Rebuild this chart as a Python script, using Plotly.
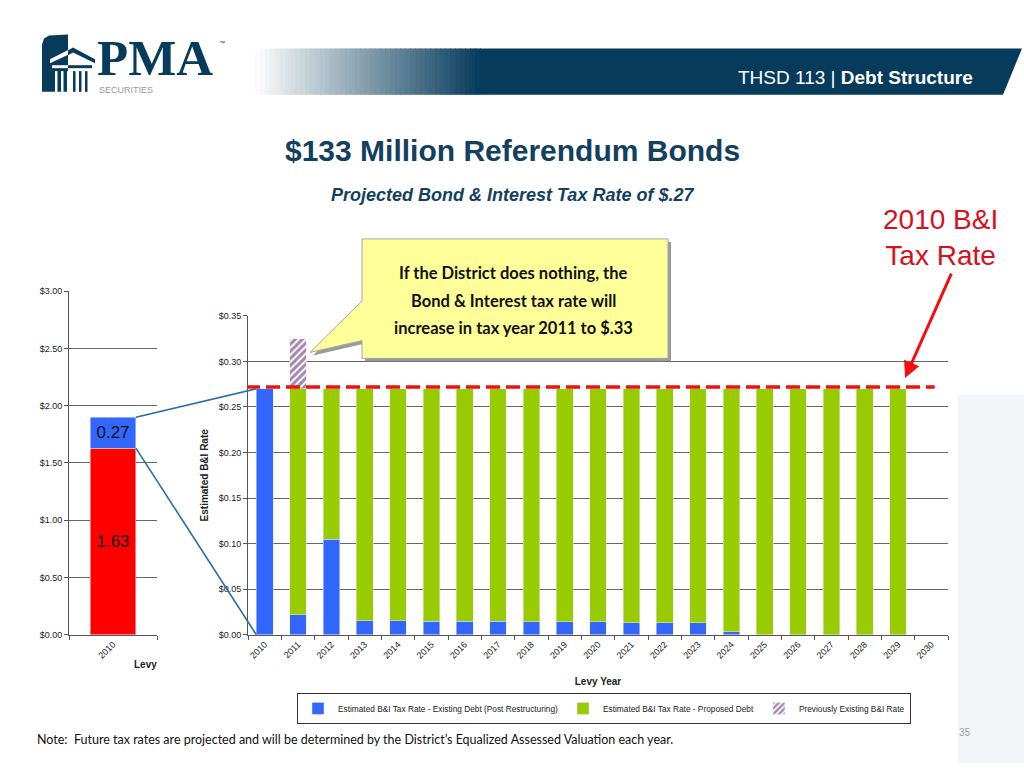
import plotly.graph_objects as go

W, H = 1024, 768

# data
years = [str(y) for y in range(2010, 2031)]
existing_debt = [0.27, 0.022, 0.105, 0.0155, 0.0155, 0.015, 0.015, 0.015, 0.014, 0.014,
                 0.014, 0.013, 0.013, 0.013, 0.003, 0, 0, 0, 0, 0, None]
proposed_debt = [0, 0.248, 0.165, 0.2545, 0.2545, 0.255, 0.255, 0.255, 0.256, 0.256,
                 0.256, 0.257, 0.257, 0.257, 0.267, 0.27, 0.27, 0.27, 0.27, 0.27, None]
previous_rate = [None, 0.055] + [None] * 19
rate_2010 = 0.272

left_year = ['2010']
left_other = [1.63]
left_bi = [0.27]

BLUE = '#3366FF'
GREEN = '#99CC00'
NAVY = '#073B5C'
TITLE = '#14405F'
FONT = 'Liberation Sans, Arial'


def px(x):
    return x / W


def py(y):
    return 1 - y / H


def path(points):
    return 'M ' + ' L '.join(f'{px(a):.5f},{py(b):.5f}' for a, b in points) + ' Z'


def mapv(v, dom, rng):
    return dom[0] + (v - rng[0]) / (rng[1] - rng[0]) * (dom[1] - dom[0])


main_xdom = [px(248), px(948)]
main_ydom = [py(638), py(315)]
main_xrng = [-0.5, 20.5]
main_yrng = [0, 0.35]
left_xdom = [px(69), px(157)]
left_ydom = [py(638), py(290)]
left_xrng = [-0.5, 0.5]
left_yrng = [0, 3]

fig = go.Figure()

# left chart: total 2010 tax rate
fig.add_bar(x=left_year, y=left_other, xaxis='x2', yaxis='y2', width=0.52,
            marker_color='#FF0000', text=[f'{v:.2f}' for v in left_other],
            textposition='inside', insidetextanchor='middle', textangle=0,
            textfont=dict(size=17, color='#111', family=FONT), showlegend=False)
fig.add_bar(x=left_year, y=left_bi, xaxis='x2', yaxis='y2', width=0.52,
            marker_color=BLUE, text=[f'{v:.2f}' for v in left_bi],
            textposition='inside', insidetextanchor='middle', textangle=0,
            textfont=dict(size=17, color='#111', family=FONT), showlegend=False)

# main chart
fig.add_bar(x=years, y=existing_debt, width=0.5, marker_color=BLUE,
            name='Estimated B&I Tax Rate - Existing Debt (Post Restructuring)')
fig.add_bar(x=years, y=proposed_debt, width=0.5, marker_color=GREEN,
            name='Estimated B&I Tax Rate - Proposed Debt')
fig.add_bar(x=years, y=previous_rate, width=0.5,
            marker=dict(color='white', pattern=dict(shape='/', fgcolor='#4B0F5C', bgcolor='white',
                                                     size=5, solidity=0.6)),
            name='Previously Existing B&I Rate')

shapes = []

# faint decoration at the right
shapes.append(dict(type='path', xref='paper', yref='paper', layer='below', line_width=0,
                   fillcolor='#F3F6F9', path=path([(958, 395), (1024, 395), (1024, 768), (958, 768)])))

# header band with gradient
n = 45
x_start, x_end = 255, 480
step = (x_end - x_start) / n
nav = (7, 59, 92)
for i in range(n):
    t = (i + 0.5) / n
    c = tuple(int(255 + (v - 255) * t) for v in nav)
    shapes.append(dict(type='rect', xref='paper', yref='paper', line_width=0,
                       fillcolor=f'rgb{c}',
                       x0=px(x_start + i * step), x1=px(x_start + (i + 1) * step + 0.6),
                       y0=py(91), y1=py(44)))
shapes.append(dict(type='path', xref='paper', yref='paper', line_width=0, fillcolor=NAVY,
                   path=path([(x_end, 44), (1022, 44), (1003, 91), (x_end, 91)])))

# logo
shapes.append(dict(type='path', xref='paper', yref='paper', line_width=0, fillcolor=NAVY,
                   path=path([(42, 40), (44, 34), (49, 31), (68, 30), (68, 88), (42, 88)])))
shapes.append(dict(type='path', xref='paper', yref='paper', line_width=0, fillcolor='white',
                   path=path([(50, 55), (73, 43), (95, 55), (95, 59), (73, 48), (50, 59)])))
shapes.append(dict(type='path', xref='paper', yref='paper', line_width=0, fillcolor=NAVY,
                   path=path([(68, 46), (73, 43), (95, 55), (95, 59), (73, 48), (68, 51)])))
shapes.append(dict(type='rect', xref='paper', yref='paper', line_width=0, fillcolor='white',
                   x0=px(52), x1=px(68), y0=py(64), y1=py(61)))
shapes.append(dict(type='rect', xref='paper', yref='paper', line_width=0, fillcolor=NAVY,
                   x0=px(68), x1=px(92), y0=py(64), y1=py(61)))
for k in range(6):
    xc = 55 + k * 6
    col = 'white' if xc < 68 else NAVY
    shapes.append(dict(type='rect', xref='paper', yref='paper', line_width=0, fillcolor=col,
                       x0=px(xc), x1=px(xc + 2.5), y0=py(88), y1=py(67)))

# connector lines between the two charts
lx = mapv(0.26, left_xdom, left_xrng)
mx = mapv(-0.25, main_xdom, main_xrng)
for ly, my in [(left_other[0] + left_bi[0], existing_debt[0]), (left_other[0], 0)]:
    shapes.append(dict(type='line', xref='paper', yref='paper',
                       x0=lx, y0=mapv(ly, left_ydom, left_yrng),
                       x1=mx, y1=mapv(my, main_ydom, main_yrng),
                       line=dict(color='#2E6DA4', width=1.6)))

# 2010 rate reference line
shapes.append(dict(type='line', xref='x', yref='y', x0=-0.56, x1=20.1, y0=rate_2010, y1=rate_2010,
                   line=dict(color='#F01010', width=3.5, dash='14px,6px')))

# callout box with shadow
box = [(362, 237), (668, 237), (668, 358), (362, 358), (362, 340), (310, 352), (362, 300)]
shapes.append(dict(type='path', xref='paper', yref='paper', line_width=0, fillcolor='#9A9A9A',
                   path=path([(a + 3, b + 3) for a, b in box])))
shapes.append(dict(type='path', xref='paper', yref='paper', fillcolor='#FFFF99',
                   line=dict(color='#A8A8A8', width=1), path=path(box)))

annotations = [
    dict(text='THSD 113 | <b>Debt Structure</b>', x=px(975), y=py(73), xanchor='right',
         font=dict(size=19, color='white', family=FONT)),
    dict(text='<b>PMA</b>', x=px(95), y=py(54), xanchor='left',
         font=dict(size=51, color=NAVY, family='Liberation Serif, Times New Roman')),
    dict(text='™', x=px(217), y=py(38), xanchor='left',
         font=dict(size=6, color=NAVY, family=FONT)),
    dict(text='SECURITIES', x=px(97), y=py(86), xanchor='left',
         font=dict(size=9, color='#9A9A9A', family=FONT)),
    dict(text='<b>$133 Million Referendum Bonds</b>', x=0.5, y=py(147),
         font=dict(size=30, color=TITLE, family=FONT)),
    dict(text='<b><i>Projected Bond & Interest Tax Rate of $.27</i></b>', x=0.5, y=py(192),
         font=dict(size=18, color=TITLE, family=FONT)),
    dict(text='2010 B&I<br>Tax Rate', x=px(940), y=py(236),
         font=dict(size=28, color='#D8101C', family=FONT)),
    dict(text='', x=px(905), y=py(378), ax=47, ay=-106, showarrow=True, arrowhead=2,
         arrowsize=1.1, arrowwidth=3, arrowcolor='#F01010'),
    dict(text='<b>Levy</b>', x=px(132), y=py(668), xanchor='left',
         font=dict(size=10, color='#222', family=FONT)),
    dict(text='Note:  Future tax rates are projected and will be determined by the District’s '
              'Equalized Assessed Valuation each year.',
         x=px(35), y=py(744), xanchor='left', font=dict(size=12.5, color='#111', family='Lato')),
    dict(text='35', x=px(965), y=py(737), font=dict(size=10, color='#A0A0A0', family=FONT)),
]
for text, yy in [('If the District does nothing, the', 272),
                 ('Bond & Interest tax rate will', 300),
                 ('increase in tax year 2011 to $.33', 327)]:
    annotations.append(dict(text=f'<b>{text}</b>', x=px(513), y=py(yy),
                            font=dict(size=16.5, color='#111', family='Lato')))
for a in annotations:
    a.setdefault('xref', 'paper')
    a.setdefault('yref', 'paper')
    a.setdefault('showarrow', False)
    a.setdefault('xanchor', 'center')
    a.setdefault('yanchor', 'middle')

axis_common = dict(showline=True, linecolor='#555', linewidth=1, ticks='outside', ticklen=4,
                   tickcolor='#555', tickfont=dict(size=9, color='#222', family=FONT))

fig.update_layout(
    width=W, height=H, margin=dict(l=0, r=0, t=0, b=0),
    paper_bgcolor='white', plot_bgcolor='rgba(0,0,0,0)',
    barmode='stack', shapes=shapes, annotations=annotations,
    font=dict(family=FONT),
    xaxis=dict(domain=main_xdom, range=main_xrng, type='category', tickangle=-45,
               tickson='boundaries', showgrid=False, anchor='y',
               title=dict(text='<b>Levy Year</b>', font=dict(size=10, color='#222'), standoff=18),
               **axis_common),
    yaxis=dict(domain=main_ydom, range=main_yrng, dtick=0.05, tickformat='$.2f', anchor='x',
               showgrid=True, gridcolor='#666', gridwidth=1, zeroline=False,
               title=dict(text='<b>Estimated B&I Rate</b>', font=dict(size=10, color='#222'),
                          standoff=8),
               **axis_common),
    xaxis2=dict(domain=left_xdom, range=left_xrng, type='category', tickangle=-45,
                tickson='boundaries', showgrid=False, anchor='y2', **axis_common),
    yaxis2=dict(domain=left_ydom, range=left_yrng, dtick=0.5, tickformat='$.2f', anchor='x2',
                showgrid=True, gridcolor='#666', gridwidth=1, zeroline=False, **axis_common),
    legend=dict(orientation='h', x=px(297), y=py(697), xanchor='left', yanchor='top',
                bordercolor='#333', borderwidth=1, font=dict(size=8.3, color='#222', family=FONT),
                traceorder='normal', itemwidth=30),
)

fig.write_html('out.html', config={'displayModeBar': False},
               post_script="document.body.style.margin='0';document.body.style.overflow='hidden';")
